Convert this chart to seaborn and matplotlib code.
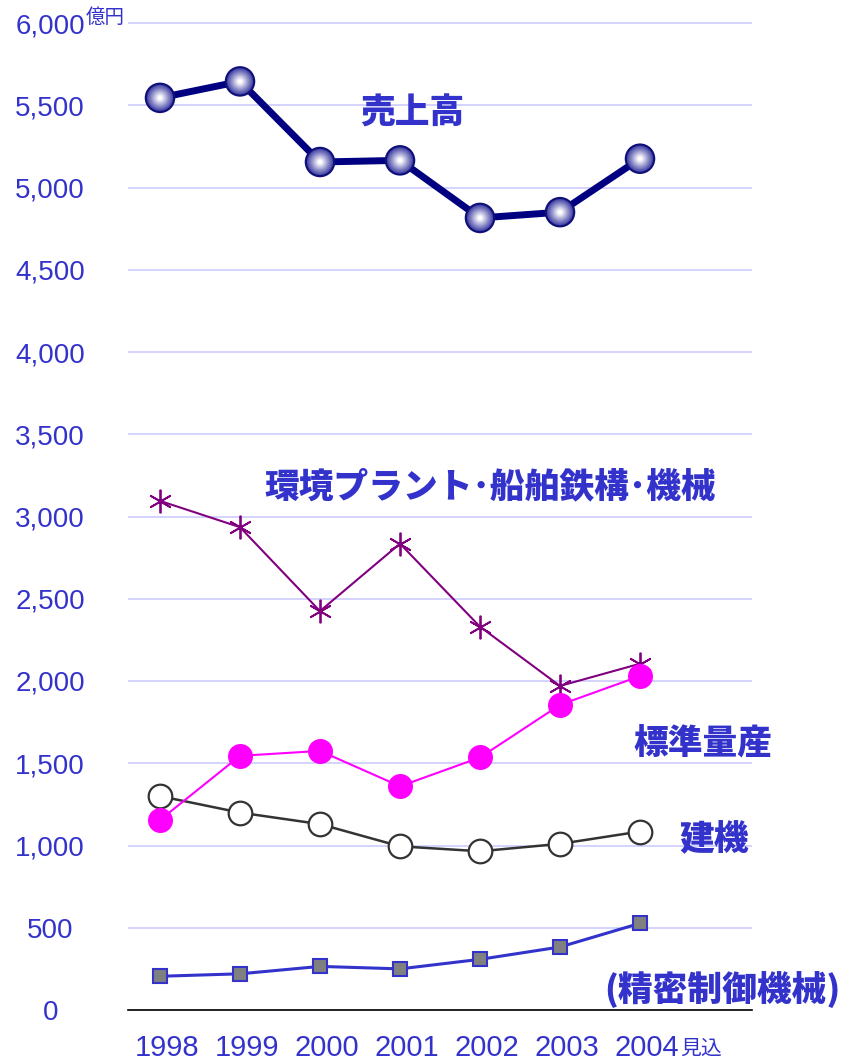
import numpy as np
import matplotlib
matplotlib.use('Agg')
import matplotlib.pyplot as plt
import matplotlib.transforms as mtransforms
import seaborn as sns
from matplotlib.colors import to_rgb

# ---------------- data ----------------
years = ['1998', '1999', '2000', '2001', '2002', '2003', '2004']
sales = [5545, 5645, 5155, 5165, 4815, 4850, 5175]
env_plant = [3095, 2935, 2425, 2835, 2330, 1970, 2105]
standard = [1155, 1545, 1575, 1360, 1535, 1855, 2030]
construction = [1300, 1200, 1130, 995, 965, 1010, 1085]
precision = [205, 220, 265, 250, 308, 383, 527]
yticks = [0, 500, 1000, 1500, 2000, 2500, 3000, 3500, 4000, 4500, 5000, 5500, 6000]
ytick_labels = ['0', '500', '1,000', '1,500', '2,000', '2,500', '3,000',
                '3,500', '4,000', '4,500', '5,000', '5,500', '6,000']
series_labels = ['売上高', '環境プラント･船舶鉄構･機械', '標準量産', '建機', '(精密制御機械)']
unit_label = '億円'
estimate_label = '見込'

# ---------------- style ----------------
sns.set_theme(style='white')
plt.rcParams['font.family'] = ['Liberation Sans', 'Noto Sans CJK JP', 'DejaVu Sans']
BLUE = '#3333cc'
JP = ['Noto Sans CJK JP', 'DejaVu Sans']

W, H = 853, 1064
fig = plt.figure(figsize=(W / 100, H / 100), dpi=100)


def px(x, y):
    return x / W, 1 - y / H


top_px = 13.1
ax = fig.add_axes([128 / W, 1 - 1010 / H, (752 - 128) / W, (1010 - top_px) / H])
x = np.arange(len(years))

# 売上高 : thick navy line with shaded spheres
sns.lineplot(x=x, y=sales, color='#000080', lw=5, ax=ax, zorder=5)
navy = np.array(to_rgb('#10107a'))
mid = np.array(to_rgb('#4848a8'))
white = np.array([1.0, 1.0, 1.0])
d0 = 22
sns.scatterplot(x=x, y=sales, s=d0 ** 2, color=navy, edgecolor='none', linewidth=0,
                ax=ax, zorder=6)
N = 14
for k in range(N):
    f = k / (N - 1)
    d = (d0 - 3.2) * (1 - 0.85 * f)
    c = mid * (1 - f) + white * f
    sns.scatterplot(x=x, y=sales, s=d ** 2, color=c, edgecolor='none', linewidth=0,
                    ax=ax, zorder=7 + k)

# 環境プラント・船舶鉄構・機械
sns.lineplot(x=x, y=env_plant, color='#800080', lw=1.5, marker=(6, 2, 0),
             markersize=17, markeredgewidth=1.3, markeredgecolor='#800080', ax=ax, zorder=3)
# 標準量産
sns.lineplot(x=x, y=standard, color='#ff00ff', lw=1.5, marker='o',
             markersize=18, markeredgewidth=0, markerfacecolor='#ff00ff',
             markeredgecolor='#ff00ff', ax=ax, zorder=4)
# 建機
sns.lineplot(x=x, y=construction, color='#333333', lw=1.8, marker='o',
             markersize=17, markerfacecolor='white', markeredgecolor='#333333',
             markeredgewidth=1.6, ax=ax, zorder=3)
# 精密制御機械
sns.lineplot(x=x, y=precision, color=BLUE, lw=2.2, marker='s',
             markersize=10, markerfacecolor='#808080', markeredgecolor=BLUE,
             markeredgewidth=1.5, ax=ax, zorder=3)

# ---------------- axes ----------------
ax.set_xlim(-0.4, 7.4)
ax.set_ylim(0, (1010 - top_px) * 6000 / (1010 - 23))
ax.set_yticks(yticks)
ax.set_yticklabels(ytick_labels, ha='center')
ax.tick_params(axis='y', pad=56, length=0, labelsize=20, labelcolor=BLUE)
ax.set_xticks(x)
ax.set_xticklabels(years)
ax.tick_params(axis='x', pad=17, length=0, labelsize=21, labelcolor=BLUE)
shift = mtransforms.ScaledTranslation(7 / 100, 0, fig.dpi_scale_trans)
for t in ax.get_xticklabels():
    t.set_transform(t.get_transform() + shift)
ax.yaxis.grid(True, color='#ccccff', lw=1.2)
ax.xaxis.grid(False)
for s in ['left', 'right', 'top']:
    ax.spines[s].set_visible(False)
ax.spines['bottom'].set_color('black')
ax.spines['bottom'].set_linewidth(1.2)
ax.set_xlabel('')
ax.set_ylabel('')

# ---------------- texts ----------------
fig.text(*px(86, 17), unit_label, ha='left', va='center', fontsize=14,
         color=BLUE, family=JP)
fig.text(*px(680, 1049), estimate_label, ha='left', va='center', fontsize=15,
         color=BLUE, family=JP)
label_pos = [(412, 113), (490, 487), (703, 744), (714, 840), (722, 990)]
for lab, (lx, ly) in zip(series_labels, label_pos):
    fig.text(*px(lx, ly), lab, ha='center', va='center', fontsize=25,
             fontweight=900, color=BLUE, family=JP)

fig.savefig('out.png', dpi=100)
